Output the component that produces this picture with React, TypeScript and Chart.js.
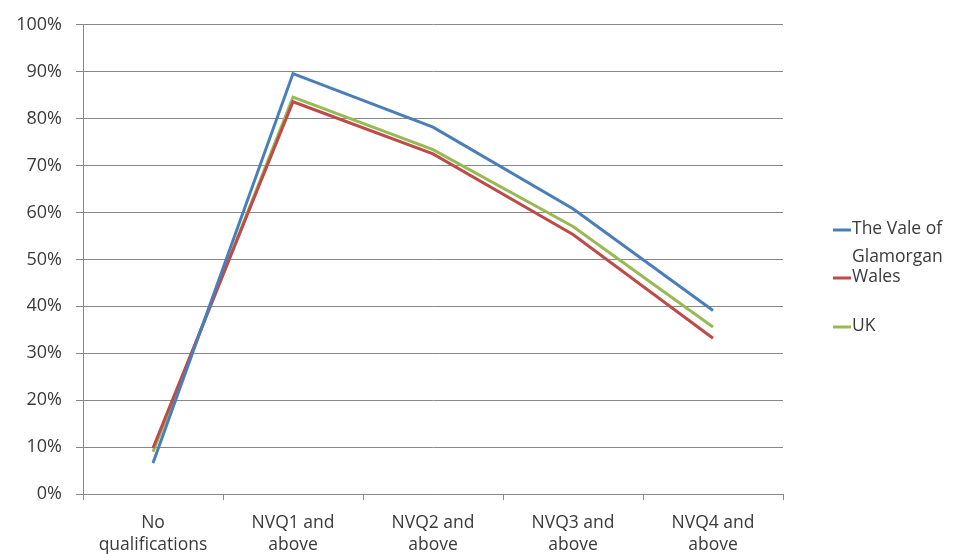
import React, { useEffect, useRef } from "react";
import { Chart, registerables } from "chart.js";

Chart.register(...registerables);

const categories: string[][] = [
  ["No", "qualifications"],
  ["NVQ1 and", "above"],
  ["NVQ2 and", "above"],
  ["NVQ3 and", "above"],
  ["NVQ4 and", "above"],
];

const valeOfGlamorgan = [6.6, 89.6, 78.2, 60.8, 39.1];
const wales = [9.8, 83.6, 72.5, 55.3, 33.2];
const uk = [9.0, 84.6, 73.4, 57.0, 35.6];

const legendLabels: string[][] = [["The Vale of", "Glamorgan"], ["Wales"], ["UK"]];
const yTickValues = [0, 10, 20, 30, 40, 50, 60, 70, 80, 90, 100];

const FONT = "'Open Sans', 'DejaVu Sans', sans-serif";
const TEXT = "#3a3a3a";
const GRID = "#878787";

// Draws the legend at the right, with a wrapped first label
const sideLegend = {
  id: "sideLegend",
  afterDraw(chart: any) {
    const ctx = chart.ctx as CanvasRenderingContext2D;
    const x0 = chart.chartArea.right + 50;
    const rows = [230, 278, 327];
    ctx.save();
    ctx.font = `17.5px ${FONT}`;
    ctx.fillStyle = TEXT;
    ctx.textBaseline = "middle";
    chart.data.datasets.forEach((ds: any, i: number) => {
      const y = rows[i];
      ctx.strokeStyle = ds.borderColor;
      ctx.lineWidth = 3;
      ctx.beginPath();
      ctx.moveTo(x0, y);
      ctx.lineTo(x0 + 18, y);
      ctx.stroke();
      legendLabels[i].forEach((line, j) => {
        ctx.fillText(line, x0 + 19, y - 1 + j * 28);
      });
    });
    ctx.restore();
  },
};

export default function App() {
  const ref = useRef<HTMLCanvasElement>(null);

  useEffect(() => {
    if (!ref.current) return;
    const chart = new Chart(ref.current, {
      type: "line",
      data: {
        labels: categories,
        datasets: [
          { label: "The Vale of Glamorgan", data: valeOfGlamorgan, borderColor: "#4A7EBB" },
          { label: "Wales", data: wales, borderColor: "#BE4B48" },
          { label: "UK", data: uk, borderColor: "#98B954" },
        ].map((d) => ({
          ...d,
          borderWidth: 3,
          pointRadius: 0,
          tension: 0,
          fill: false,
        })),
      },
      options: {
        animation: false,
        responsive: false,
        layout: { padding: { top: 24, right: 176, left: 0, bottom: 0 } },
        plugins: { legend: { display: false }, tooltip: { enabled: false } },
        scales: {
          x: {
            offset: true,
            grid: {
              offset: true,
              drawOnChartArea: false,
              color: GRID,
              tickLength: 6,
            },
            border: { color: GRID },
            ticks: {
              color: TEXT,
              font: { family: FONT, size: 17.5, lineHeight: 1.27 },
              padding: 12,
              maxRotation: 0,
              autoSkip: false,
            },
            afterFit(scale: any) {
              scale.height = 60;
            },
          },
          y: {
            min: 0,
            max: 100,
            afterBuildTicks(scale: any) {
              scale.ticks = yTickValues.map((v) => ({ value: v }));
            },
            grid: { color: GRID, tickLength: 7 },
            border: { color: GRID },
            ticks: {
              color: TEXT,
              font: { family: FONT, size: 18 },
              padding: 14,
              callback: (v: any) => `${v}%`,
            },
            afterFit(scale: any) {
              scale.width = 83;
            },
          },
        },
      },
      plugins: [sideLegend],
    });
    return () => chart.destroy();
  }, []);

  return (
    <div style={{ position: "absolute", left: 0, top: 0, width: 959, height: 554, background: "#fff" }}>
      <canvas ref={ref} width={959} height={554} />
    </div>
  );
}
